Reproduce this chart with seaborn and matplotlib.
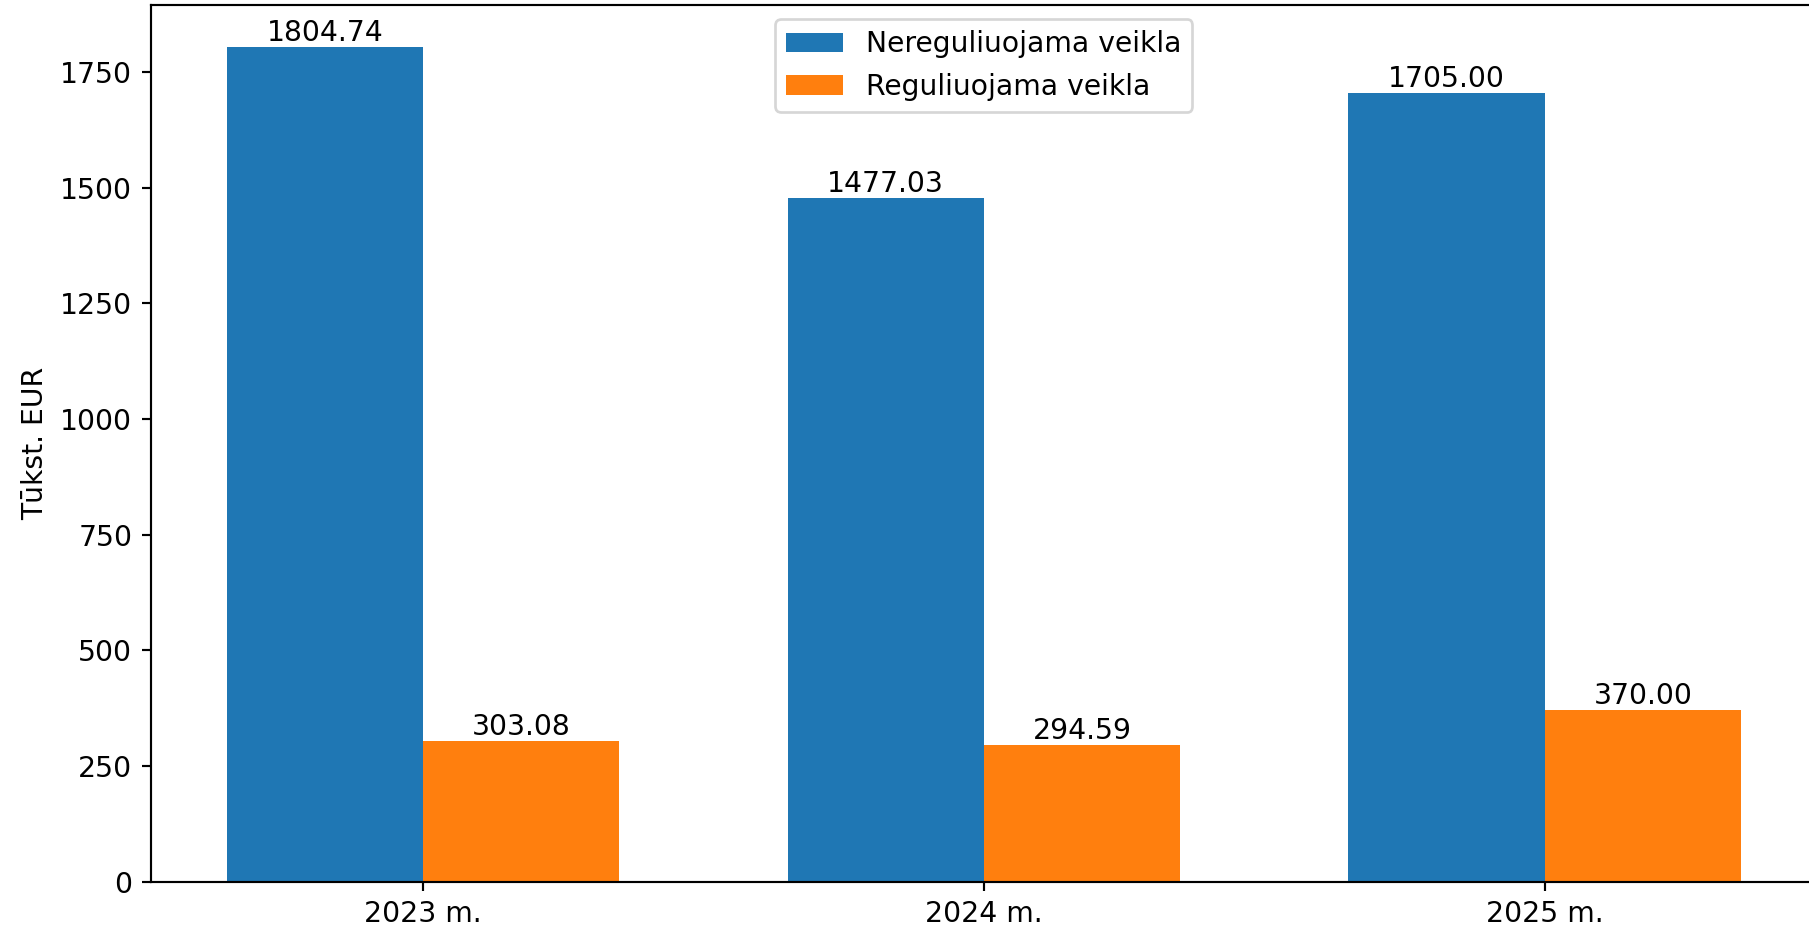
import matplotlib
matplotlib.use("Agg")
import matplotlib.pyplot as plt
import seaborn as sns
import pandas as pd

# Data
years = ["2023 m.", "2024 m.", "2025 m."]
series_names = ["Nereguliuojama veikla", "Reguliuojama veikla"]
nereguliuojama = [1804.74, 1477.03, 1705.00]
reguliuojama = [303.08, 294.59, 370.00]

COLORS = ["#1f77b4", "#ff7f0e"]

df = pd.DataFrame({
    "Metai": years * 2,
    "Veikla": [series_names[0]] * len(years) + [series_names[1]] * len(years),
    "Suma": nereguliuojama + reguliuojama,
})

plt.rcParams["font.size"] = 10.5

dpi = 194
fig = plt.figure(figsize=(1809 / dpi, 929 / dpi), dpi=dpi)
ax = fig.add_axes([0.0835, 0.0511, 0.9207, 0.9435])

sns.barplot(data=df, x="Metai", y="Suma", hue="Veikla", palette=COLORS,
            width=0.7, saturation=1, errorbar=None, linewidth=0, ax=ax)

for container in ax.containers:
    ax.bar_label(container, fmt="%.2f")

ax.set_xlim(-0.485, 2.485)
ax.set_ylim(0, max(nereguliuojama) * 1.05)
ax.set_xlabel("")
ax.set_ylabel("Tūkst. EUR")
sns.move_legend(ax, "upper center", title=None)

fig.savefig("out.png", dpi=dpi)
plt.close(fig)
